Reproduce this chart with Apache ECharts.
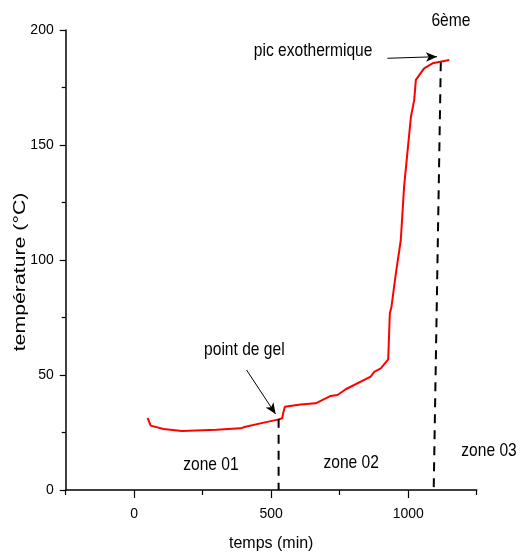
<!DOCTYPE html>
<html>
<head>
<meta charset="utf-8">
<script src="https://cdn.jsdelivr.net/npm/echarts@6/dist/echarts.min.js"></script>
<style>
  html, body { margin: 0; padding: 0; background: #fff; }
  #chart { width: 524px; height: 558px; }
</style>
</head>
<body>
<div id="chart"></div>
<script>
// temps (min) / température (°C)
const timeMin = [49, 60, 107, 174, 300, 388, 406, 473, 528, 540, 545, 550, 555, 607, 662, 717, 742, 772, 863, 876, 900, 927, 930, 933, 939, 955, 973, 985, 998, 1010, 1022, 1028, 1058, 1089, 1150];
const tempC   = [31.4, 28.0, 26.5, 25.7, 26.2, 26.8, 27.5, 29.3, 30.7, 31.2, 34.0, 36.2, 36.5, 37.2, 37.7, 40.9, 41.3, 43.8, 49.3, 51.4, 52.9, 56.8, 57.3, 76.8, 79.7, 94.2, 108.7, 131.9, 147.8, 162.3, 169.6, 178.3, 183.3, 185.5, 187.0];

const xTickLabels = [0, 500, 1000];
const xMinorTicks = [-250, 250, 750, 1250];

// lignes pointillées (point de gel, pic exothermique)
const gelLineX = [527, 527];
const gelLineY = [31, 0];
const picLineX = [1119, 1093];
const picLineY = [186, 0];

// flèches : [x0, y0, x1, y1]
const gelArrow = [410, 52.2, 516, 33.0];
const picArrow = [924, 187.7, 1105, 188.4];

// textes
const noteTexts = ["zone 01", "zone 02", "zone 03", "point de gel", "pic exothermique", "6ème"];
const noteX = [280, 792, 1295, 402, 653, 1156];
const noteY = [10.9, 11.7, 17, 60.9, 190.9, 204];

const FONT = "'Liberation Sans', Arial, sans-serif";

const chart = echarts.init(document.getElementById("chart"));

const pairs = (xs, ys) => xs.map((x, i) => [x, ys[i]]);

let option = {
	animation: false,
	backgroundColor: "#fff",
	grid: { left: 65.7, right: 47.3, top: 30, bottom: 68, outerBoundsMode: "none" },
	xAxis: [
		{
			type: "value",
			min: -250,
			max: 1250,
			name: "temps (min)",
			nameLocation: "middle",
			nameGap: 46,
			nameTextStyle: { fontFamily: FONT, fontSize: 16, color: "#000" },
			axisLine: { show: true, onZero: false, lineStyle: { color: "#000", width: 1.5 } },
			axisTick: { show: true, length: 8, customValues: xTickLabels, lineStyle: { color: "#000", width: 1.2 } },
			axisLabel: { customValues: xTickLabels, formatter: (v) => String(v), margin: 17, fontFamily: FONT, fontSize: 14, color: "#000" },
			splitLine: { show: false },
		},
		{
			type: "value",
			min: -250,
			max: 1250,
			position: "bottom",
			axisLine: { show: false, onZero: false },
			axisTick: { show: true, length: 5, customValues: xMinorTicks, lineStyle: { color: "#000", width: 1.2 } },
			axisLabel: { show: false },
			splitLine: { show: false },
		},
	],
	yAxis: {
		type: "value",
		min: 0,
		max: 200,
		interval: 50,
		axisLine: { show: true, onZero: false, lineStyle: { color: "#000", width: 1.5 } },
		axisTick: { show: true, length: 6, lineStyle: { color: "#000", width: 1.2 } },
		minorTick: { show: true, splitNumber: 2, length: 4, lineStyle: { color: "#000", width: 1.2 } },
		axisLabel: { margin: 12, fontFamily: FONT, fontSize: 14, color: "#000" },
		splitLine: { show: false },
	},
	series: [
		{
			type: "line",
			data: pairs(timeMin, tempC),
			symbol: "none",
			lineStyle: { color: "#ff0000", width: 2 },
			markLine: {
				silent: true,
				symbol: ["none", "arrow"],
				symbolSize: [7, 11],
				label: { show: false },
				lineStyle: { color: "#000", width: 1, type: "solid" },
				data: [gelArrow, picArrow].map((a) => [{ coord: [a[0], a[1]] }, { coord: [a[2], a[3]] }]),
			},
		},
		{
			type: "line",
			data: pairs(gelLineX, gelLineY),
			symbol: "none",
			lineStyle: { color: "#000", width: 2, type: [9, 7] },
		},
		{
			type: "line",
			data: pairs(picLineX, picLineY),
			symbol: "none",
			lineStyle: { color: "#000", width: 2, type: [9, 7] },
		},
	],
};
chart.setOption(option);

// textes placés en coordonnées de données (police étroite simulée)
const graphics = noteTexts.map((t, i) => {
	const p = chart.convertToPixel({ xAxisIndex: 0, yAxisIndex: 0 }, [noteX[i], noteY[i]]);
	return {
		type: "text",
		x: p[0],
		y: p[1],
		scaleX: 0.82,
		style: { text: t, fontFamily: FONT, fontSize: 19, fill: "#000", align: "center", verticalAlign: "middle" },
	};
});
// titre de l'axe vertical
graphics.push({
	type: "text",
	x: 21,
	y: 272,
	rotation: Math.PI / 2,
	scaleX: 1.12,
	scaleY: 0.82,
	style: { text: "température (°C)", fontFamily: FONT, fontSize: 19, fill: "#000", align: "center", verticalAlign: "middle" },
});
chart.setOption({ graphic: graphics });
</script>
</body>
</html>
